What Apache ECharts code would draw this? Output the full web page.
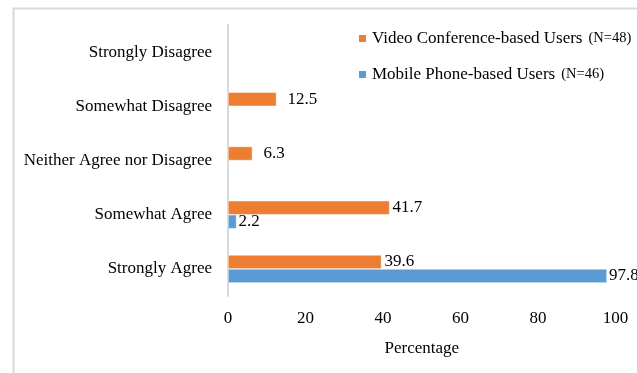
<!DOCTYPE html>
<html>
<head>
<meta charset="utf-8">
<script src="https://cdn.jsdelivr.net/npm/echarts@6/dist/echarts.min.js"></script>
<style>
html,body{margin:0;padding:0;background:#fff;}
#chart{width:637px;height:373px;}
</style>
</head>
<body>
<div id="chart"></div>
<script>
const categories = ['Strongly Agree', 'Somewhat Agree', 'Neither Agree nor Disagree', 'Somewhat Disagree', 'Strongly Disagree'];
const videoValues = [39.6, 41.7, 6.3, 12.5, null];
const mobileValues = [97.8, 2.2, null, null, null];
const xTicks = [0, 20, 40, 60, 80, 100];
const videoName = 'Video Conference-based Users';
const videoN = '(N=48)';
const mobileName = 'Mobile Phone-based Users';
const mobileN = '(N=46)';

const FONT = 'Liberation Serif';
const FS = 17;
const chart = echarts.init(document.getElementById('chart'), null, {renderer: 'canvas'});
const nLabels = {};
nLabels[videoName] = videoN;
nLabels[mobileName] = mobileN;

chart.setOption({
  animation: false,
  graphic: [{
    type: 'rect', left: 11, top: 6, z: -10,
    shape: {width: 700, height: 500},
    style: {fill: 'none', stroke: '#d9d9d9', lineWidth: 2}
  }],
  grid: {left: 228, right: 21.5, top: 25, bottom: 77},
  legend: {
    orient: 'vertical',
    left: 352, top: 25,
    itemWidth: 9, itemHeight: 9, itemGap: 19,
    icon: 'rect',
    data: [videoName, mobileName],
    formatter: function (name) { return '{a|' + name + '}  {b|' + nLabels[name] + '}'; },
    textStyle: {
      fontFamily: FONT, color: '#000',
      rich: {
        a: {fontFamily: FONT, fontSize: FS, color: '#000', height: 20},
        b: {fontFamily: FONT, fontSize: 14.5, color: '#000', padding: [0, 0, 1, 0]}
      }
    }
  },
  xAxis: {
    type: 'value', min: 0, max: 100, interval: 20,
    name: 'Percentage', nameLocation: 'middle', nameGap: 44,
    nameTextStyle: {fontFamily: FONT, fontSize: FS, color: '#000'},
    axisLine: {show: false}, axisTick: {show: false},
    splitLine: {show: false},
    axisLabel: {fontFamily: FONT, fontSize: FS, color: '#000', margin: 14,
      formatter: function (v) { return xTicks.indexOf(v) >= 0 ? String(v) : ''; }}
  },
  yAxis: {
    type: 'category', data: categories,
    axisLine: {show: true, lineStyle: {color: '#d9d9d9', width: 2}},
    axisTick: {show: false},
    axisLabel: {fontFamily: FONT, fontSize: FS, color: '#000', margin: 16}
  },
  series: [
    {
      name: videoName, type: 'bar',
      data: videoValues.map(function (v, i) {
        return (i === 2 || i === 3) ? {value: v, label: {distance: 11}} : v;
      }),
      barWidth: 14, barGap: '0%',
      itemStyle: {color: '#ED7D31', borderColor: '#fff', borderWidth: 0.5},
      label: {show: true, position: 'right', distance: 3, fontFamily: FONT, fontSize: FS, color: '#000',
        formatter: function (p) { return p.value == null ? '' : Number(p.value).toFixed(1); }}
    },
    {
      name: mobileName, type: 'bar', data: mobileValues,
      barWidth: 14, barGap: '0%',
      itemStyle: {color: '#5B9BD5', borderColor: '#fff', borderWidth: 0.5},
      label: {show: true, position: 'right', distance: 2, fontFamily: FONT, fontSize: FS, color: '#000',
        formatter: function (p) { return p.value == null ? '' : p.value.toFixed(1); }}
    }
  ]
});
</script>
</body>
</html>
